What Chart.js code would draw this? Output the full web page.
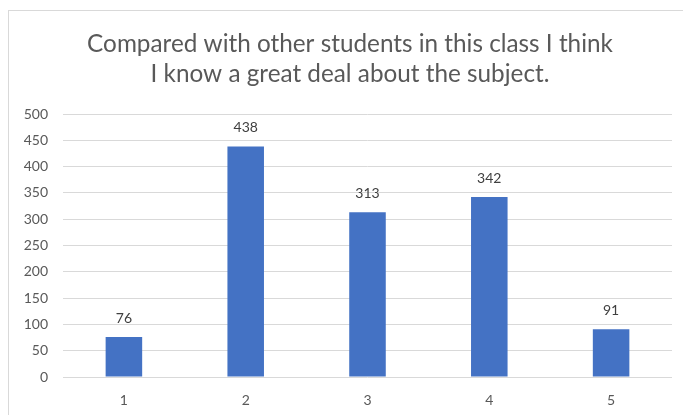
<!DOCTYPE html>
<html>
<head>
<meta charset="utf-8">
<script src="https://cdn.jsdelivr.net/npm/chart.js@4.4.1/dist/chart.umd.min.js"></script>
<style>
  html, body { margin: 0; padding: 0; background: #fff; }
  #wrap { width: 683px; height: 415px; position: relative; }
</style>
</head>
<body>
<div id="wrap"><canvas id="barChart"></canvas></div>
<script>
const categories = ['1', '2', '3', '4', '5'];
const counts = [76, 438, 313, 342, 91];
const titleLines = ['Compared with other students in this class I think', 'I know a great deal about the subject.'];
const yTicks = [0, 50, 100, 150, 200, 250, 300, 350, 400, 450, 500];

const fontFamily = "'Lato', 'Liberation Sans', sans-serif";

// light frame around the whole chart, like the Excel chart border
const framePlugin = {
    id: 'frame',
    beforeDraw(chart) {
        const c = chart.ctx;
        c.save();
        c.fillStyle = '#fff';
        c.fillRect(0, 0, chart.width, chart.height);
        c.strokeStyle = '#d9d9d9';
        c.lineWidth = 1;
        c.strokeRect(8.5, 10.5, chart.width, chart.height);
        c.restore();
    }
};

// two line title, centred on the frame rather than the plot
const titlePlugin = {
    id: 'bigTitle',
    afterDraw(chart) {
        const c = chart.ctx;
        c.save();
        // size the font so the first line is as wide as in the original
        let size = 24;
        c.font = size + 'px ' + fontFamily;
        size = size * 526 / c.measureText(titleLines[0]).width;
        c.font = size.toFixed(2) + 'px ' + fontFamily;
        c.fillStyle = '#595959';
        c.textAlign = 'center';
        c.textBaseline = 'middle';
        c.fillText(titleLines[0], 350, 44);
        c.fillText(titleLines[1], 350, 74.5);
        c.restore();
    }
};

// numbers sitting over each bar
const valueLabels = {
    id: 'valueLabels',
    afterDatasetsDraw(chart) {
        const c = chart.ctx;
        const meta = chart.getDatasetMeta(0);
        c.save();
        c.font = '14px ' + fontFamily;
        c.fillStyle = '#404040';
        c.textAlign = 'center';
        c.textBaseline = 'middle';
        meta.data.forEach((bar, i) => {
            c.fillText(counts[i], bar.x, bar.y - 19);
        });
        c.restore();
    }
};

const ctx = document.getElementById('barChart').getContext('2d');
new Chart(ctx, {
    type: 'bar',
    data: {
        labels: categories,
        datasets: [{
            data: counts,
            backgroundColor: '#4472C4',
            categoryPercentage: 1.0,
            barPercentage: 0.30
        }]
    },
    options: {
        responsive: true,
        maintainAspectRatio: false,
        animation: false,
        layout: { padding: { left: 0, right: 11, top: 114, bottom: 0 } },
        plugins: {
            legend: { display: false },
            tooltip: { enabled: false },
            title: { display: false }
        },
        scales: {
            x: {
                grid: { display: false, drawTicks: false },
                border: { display: false },
                ticks: { color: '#595959', font: { family: fontFamily, size: 14 }, padding: 15 },
                afterFit(axis) { axis.height = 38; }
            },
            y: {
                min: 0,
                max: 500,
                afterBuildTicks(axis) { axis.ticks = yTicks.map(v => ({ value: v })); },
                grid: { color: '#d9d9d9', drawTicks: false },
                border: { display: false },
                ticks: { color: '#595959', font: { family: fontFamily, size: 14 }, padding: 15 },
                afterFit(axis) { axis.width = 63; }
            }
        }
    },
    plugins: [framePlugin, titlePlugin, valueLabels]
});
</script>
</body>
</html>
